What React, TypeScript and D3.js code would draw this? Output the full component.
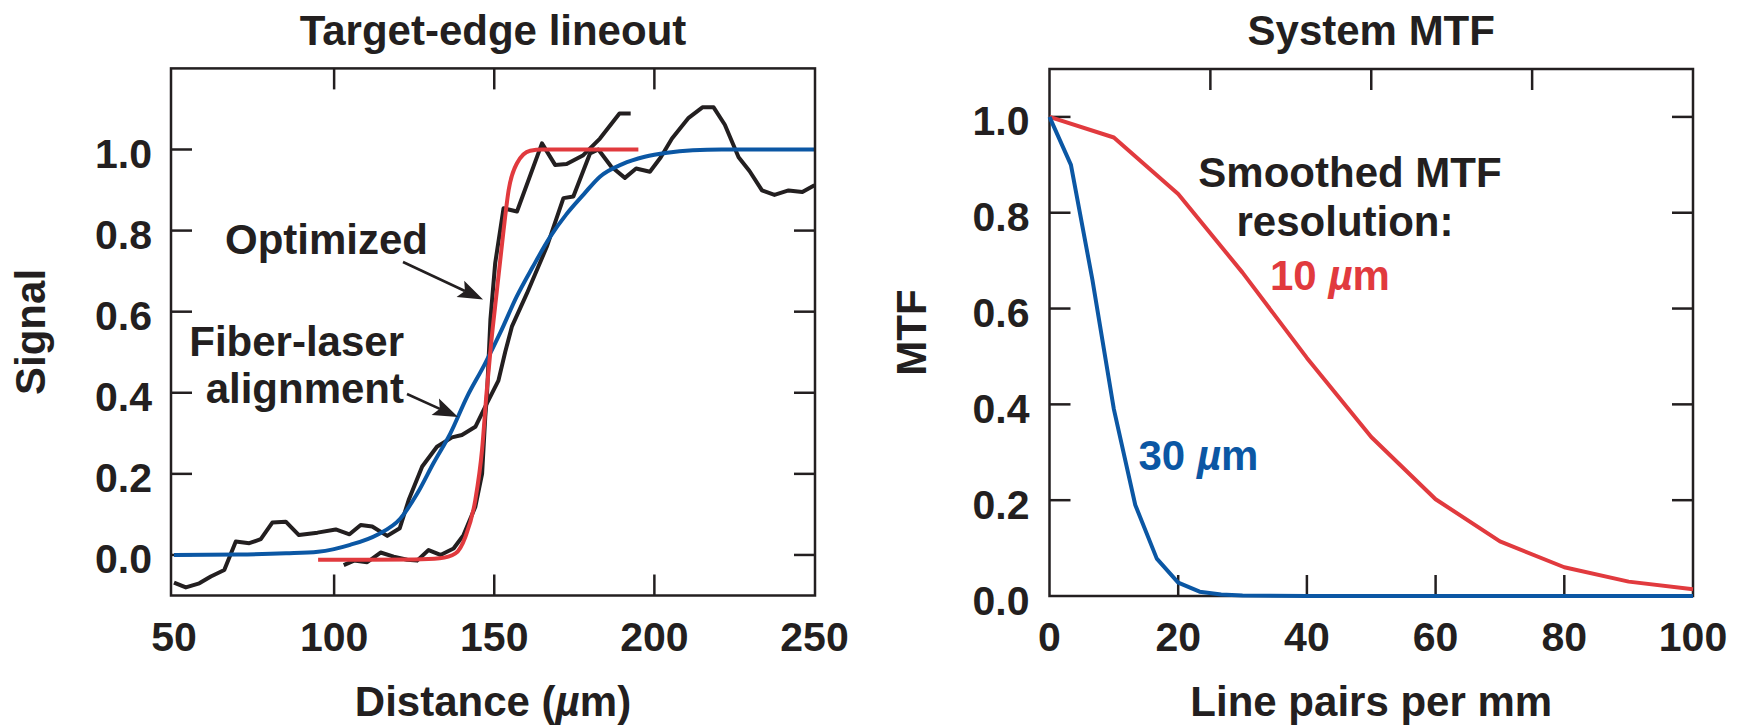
import React from "react";
import * as d3 from "d3";

// ---- Target-edge lineout data (distance in µm, normalized signal) ----
const fiberLaserData: [number, number][] = [
  [50, -0.068], [53.7, -0.08], [57.9, -0.07], [61.5, -0.053], [65.7, -0.037],
  [69.3, 0.033], [73.5, 0.029], [77.1, 0.039], [80.7, 0.08], [84.9, 0.082],
  [89, 0.049], [94.8, 0.055], [100.5, 0.063], [104.8, 0.051], [108.3, 0.074],
  [111.9, 0.07], [116.6, 0.047], [120.5, 0.066], [123.3, 0.136], [127.5, 0.218],
  [132.1, 0.267], [136.8, 0.29], [139.9, 0.296], [144.1, 0.316], [147.7, 0.374],
  [151.3, 0.43], [153.4, 0.5], [155.5, 0.563], [160.2, 0.645], [166.4, 0.76],
  [171.6, 0.88], [174.7, 0.884], [179.9, 0.99], [182.5, 1.0], [186.5, 0.958],
  [190.8, 0.93], [194.3, 0.953], [198.6, 0.945], [202, 0.981], [205.5, 1.027],
  [210.7, 1.078], [215, 1.104], [218.5, 1.104], [222, 1.061], [226.3, 0.981],
  [229.7, 0.947], [233.6, 0.899], [237.5, 0.888], [241.9, 0.899], [246.2, 0.895],
  [250, 0.912],
];

const optimizedData: [number, number][] = [
  [103, -0.025], [106.2, -0.014], [110.3, -0.018], [114.5, 0.006], [118.6, -0.004],
  [122.8, -0.012], [125.9, -0.014], [129.5, 0.012], [133.2, 0], [137.3, 0.016],
  [140.4, 0.049], [144.1, 0.119], [146.2, 0.2], [147.2, 0.341], [147.7, 0.39],
  [148.8, 0.58], [150.3, 0.72], [152.9, 0.855], [157.1, 0.847], [164.9, 1.015],
  [169, 0.962], [172.6, 0.964], [177.8, 0.986], [183, 1.027], [189.1, 1.089],
  [192.6, 1.089],
];

const fiberLaserFit: [number, number][] = [
  [50, 0], [70, 0.001], [85, 0.004], [95, 0.008], [105, 0.025], [113.5, 0.05],
  [120.7, 0.09], [126, 0.152], [131, 0.226], [136.3, 0.3], [141.5, 0.39],
  [147, 0.47], [152, 0.55], [157, 0.637], [162, 0.71], [167.5, 0.785],
  [172.5, 0.84], [178, 0.89], [183, 0.933], [190, 0.964], [197, 0.982],
  [204, 0.992], [212, 0.998], [221, 1.0], [250, 1.0],
];

const optimizedFit: [number, number][] = [
  [95, -0.012], [110, -0.012], [125, -0.011], [133, -0.008], [137.9, 0.004],
  [141, 0.045], [144.1, 0.136], [146.2, 0.26], [147.6, 0.4], [149, 0.52],
  [150.8, 0.65], [152.9, 0.8], [154.5, 0.9], [157.1, 0.966], [161.2, 0.997],
  [165, 1.0], [195, 1.0],
];

// ---- System MTF data (line pairs per mm, MTF) ----
const mtf10um: [number, number][] = [
  [0, 1.0], [10, 0.957], [20, 0.839], [30, 0.675], [40, 0.497], [50, 0.332],
  [60, 0.202], [70, 0.114], [80, 0.06], [90, 0.03], [100, 0.014],
];

const mtf30um: [number, number][] = [
  [0, 1.0], [3.33, 0.9], [6.67, 0.66], [10, 0.39], [13.33, 0.19], [16.67, 0.078],
  [20, 0.028], [23.33, 0.009], [26.67, 0.003], [30, 0.001], [40, 0], [50, 0],
  [60, 0], [70, 0], [80, 0], [90, 0], [100, 0],
];

// ---- Axis ticks ----
const lineoutXTicks = [50, 100, 150, 200, 250];
const lineoutXInnerTicks = [100, 150, 200];
const lineoutYTicks = [0, 0.2, 0.4, 0.6, 0.8, 1.0];
const mtfXTicks = [0, 20, 40, 60, 80, 100];
const mtfXInnerTicks = [20, 40, 60, 80];
const mtfXTopTicks = [25, 50, 75];
const mtfYTicks = [0, 0.2, 0.4, 0.6, 0.8, 1.0];
const mtfYInnerTicks = [0.2, 0.4, 0.6, 0.8, 1.0];

const INK = "#231f20";
const RED = "#e13a3e";
const BLUE = "#0b57a4";
const FONT = "'Liberation Sans', Arial, Helvetica, sans-serif";
const TICK = 21;
const DATA_W = 4;

function Arrow({ tip, from }: { tip: [number, number]; from: [number, number] }) {
  const dx = tip[0] - from[0];
  const dy = tip[1] - from[1];
  const len = Math.hypot(dx, dy);
  const ux = dx / len;
  const uy = dy / len;
  const headLen = 25;
  const half = 9;
  const bx = tip[0] - ux * headLen;
  const by = tip[1] - uy * headLen;
  const nx = bx + ux * 5;
  const ny = by + uy * 5;
  const p1 = [bx - uy * half, by + ux * half];
  const p2 = [bx + uy * half, by - ux * half];
  return (
    <g>
      <line x1={from[0]} y1={from[1]} x2={nx} y2={ny} stroke={INK} strokeWidth={2.6} />
      <polygon
        points={`${tip[0]},${tip[1]} ${p1[0]},${p1[1]} ${nx},${ny} ${p2[0]},${p2[1]}`}
        fill={INK}
      />
    </g>
  );
}

export default function App() {
  // Left panel scales and frame
  const xL = d3.scaleLinear().domain([50, 250]).range([174, 814.5]);
  const yL = d3.scaleLinear().domain([-0.1, 1.2]).range([595.5, 68.4]);
  const frameL = { x0: 171, x1: 815, y0: 595.5, y1: 68.4 };
  // Right panel scales
  const xR = d3.scaleLinear().domain([0, 100]).range([1049.5, 1693]);
  const yR = d3.scaleLinear().domain([0, 1.1]).range([596, 69]);

  const lineL = d3.line<[number, number]>().x((d) => xL(d[0])).y((d) => yL(d[1]));
  const smoothL = d3
    .line<[number, number]>()
    .x((d) => xL(d[0]))
    .y((d) => yL(d[1]))
    .curve(d3.curveMonotoneX);
  const lineR = d3.line<[number, number]>().x((d) => xR(d[0])).y((d) => yR(d[1]));

  const [rx0, rx1] = xR.range();
  const [ry0, ry1] = yR.range();

  const tickLabel = { fontFamily: FONT, fontWeight: 700, fontSize: 41, fill: INK } as const;
  const bigLabel = { fontFamily: FONT, fontWeight: 700, fontSize: 42, fill: INK } as const;

  const optTip: [number, number] = [xL(146.5), yL(0.63)];
  const fibTip: [number, number] = [xL(138.7), yL(0.34)];

  return (
    <svg
      width={1739}
      height={725}
      viewBox="0 0 1739 725"
      style={{ position: "absolute", left: 0, top: 0, background: "#fff" }}
    >
      <rect width={1739} height={725} fill="#fff" />

      {/* ===== Left panel: Target-edge lineout ===== */}
      <text x={(frameL.x0 + frameL.x1) / 2} y={45} textAnchor="middle" {...bigLabel}>
        Target-edge lineout
      </text>

      {/* ticks */}
      {lineoutYTicks.map((t) => (
        <g key={`ly${t}`}>
          <line x1={frameL.x0} x2={frameL.x0 + TICK} y1={yL(t)} y2={yL(t)} stroke={INK} strokeWidth={2.5} />
          <line x1={frameL.x1} x2={frameL.x1 - TICK} y1={yL(t)} y2={yL(t)} stroke={INK} strokeWidth={2.5} />
          <text x={frameL.x0 - 19} y={yL(t) + 18.5} textAnchor="end" {...tickLabel}>
            {t.toFixed(1)}
          </text>
        </g>
      ))}
      {lineoutXInnerTicks.map((t) => (
        <g key={`lxi${t}`}>
          <line x1={xL(t)} x2={xL(t)} y1={frameL.y0} y2={frameL.y0 - TICK} stroke={INK} strokeWidth={2.5} />
          <line x1={xL(t)} x2={xL(t)} y1={frameL.y1} y2={frameL.y1 + TICK} stroke={INK} strokeWidth={2.5} />
        </g>
      ))}
      {lineoutXTicks.map((t) => (
        <text key={`lx${t}`} x={xL(t)} y={651} textAnchor="middle" {...tickLabel}>
          {t}
        </text>
      ))}

      {/* data */}
      <path d={lineL(fiberLaserData) ?? ""} fill="none" stroke={INK} strokeWidth={DATA_W} strokeLinejoin="round" />
      <path d={lineL(optimizedData) ?? ""} fill="none" stroke={INK} strokeWidth={DATA_W} strokeLinejoin="round" />
      <path d={smoothL(fiberLaserFit) ?? ""} fill="none" stroke={BLUE} strokeWidth={DATA_W} />
      <path d={smoothL(optimizedFit) ?? ""} fill="none" stroke={RED} strokeWidth={DATA_W} />

      <rect
        x={frameL.x0}
        y={frameL.y1}
        width={frameL.x1 - frameL.x0}
        height={frameL.y0 - frameL.y1}
        fill="none"
        stroke={INK}
        strokeWidth={2.5}
      />

      {/* annotations */}
      <text x={225} y={254} {...bigLabel}>Optimized</text>
      <Arrow from={[403, 262]} tip={optTip} />
      <text x={404} y={356} textAnchor="end" {...bigLabel}>Fiber-laser</text>
      <text x={404} y={403} textAnchor="end" {...bigLabel}>alignment</text>
      <Arrow from={[407, 394]} tip={fibTip} />

      {/* axis titles */}
      <text transform={`translate(45,${(frameL.y0 + frameL.y1) / 2}) rotate(-90)`} textAnchor="middle" {...bigLabel}>
        Signal
      </text>
      <text x={(frameL.x0 + frameL.x1) / 2} y={716} textAnchor="middle" {...bigLabel}>
        Distance (<tspan fontStyle="italic">µ</tspan>m)
      </text>

      {/* ===== Right panel: System MTF ===== */}
      <text x={(rx0 + rx1) / 2} y={45} textAnchor="middle" {...bigLabel}>
        System MTF
      </text>

      {mtfYTicks.map((t) => (
        <text key={`ry${t}`} x={rx0 - 20} y={yR(t) + 18.5} textAnchor="end" {...tickLabel}>
          {t.toFixed(1)}
        </text>
      ))}
      {mtfYInnerTicks.map((t) => (
        <g key={`ryi${t}`}>
          <line x1={rx0} x2={rx0 + TICK} y1={yR(t)} y2={yR(t)} stroke={INK} strokeWidth={2.5} />
          <line x1={rx1} x2={rx1 - TICK} y1={yR(t)} y2={yR(t)} stroke={INK} strokeWidth={2.5} />
        </g>
      ))}
      {mtfXInnerTicks.map((t) => (
        <line key={`rxi${t}`} x1={xR(t)} x2={xR(t)} y1={ry0} y2={ry0 - TICK} stroke={INK} strokeWidth={2.5} />
      ))}
      {mtfXTopTicks.map((t) => (
        <line key={`rxt${t}`} x1={xR(t)} x2={xR(t)} y1={ry1} y2={ry1 + TICK} stroke={INK} strokeWidth={2.5} />
      ))}
      {mtfXTicks.map((t) => (
        <text key={`rx${t}`} x={xR(t)} y={651} textAnchor="middle" {...tickLabel}>
          {t}
        </text>
      ))}

      <rect x={rx0} y={ry1} width={rx1 - rx0} height={ry0 - ry1} fill="none" stroke={INK} strokeWidth={2.5} />

      <path d={lineR(mtf10um) ?? ""} fill="none" stroke={RED} strokeWidth={DATA_W} strokeLinejoin="round" />
      <path d={lineR(mtf30um) ?? ""} fill="none" stroke={BLUE} strokeWidth={DATA_W} strokeLinejoin="round" />

      <text x={1350} y={187} textAnchor="middle" {...bigLabel}>Smoothed MTF</text>
      <text x={1345} y={235.5} textAnchor="middle" {...bigLabel}>resolution:</text>
      <text x={1270} y={290} {...bigLabel} fill={RED}>
        10 <tspan fontStyle="italic">µ</tspan>m
      </text>
      <text x={1138.5} y={469.5} {...bigLabel} fill={BLUE}>
        30 <tspan fontStyle="italic">µ</tspan>m
      </text>

      <text transform={`translate(926,${(ry0 + ry1) / 2}) rotate(-90)`} textAnchor="middle" {...bigLabel}>
        MTF
      </text>
      <text x={(rx0 + rx1) / 2} y={716} textAnchor="middle" {...bigLabel}>
        Line pairs per mm
      </text>
    </svg>
  );
}
